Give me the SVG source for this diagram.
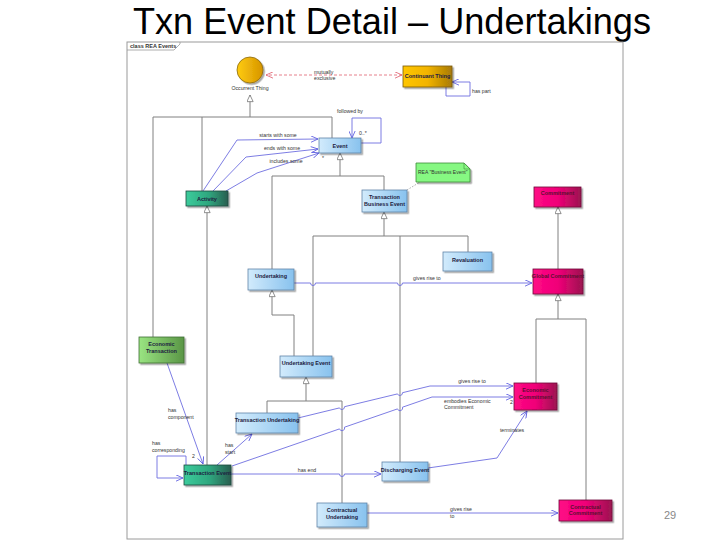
<svg xmlns="http://www.w3.org/2000/svg" width="720" height="540" viewBox="0 0 720 540">
<defs>
<linearGradient id="gBlue" x1="0" y1="0" x2="1" y2="0"><stop offset="0" stop-color="#d2ebfc"/><stop offset="1" stop-color="#88c2ee"/></linearGradient>
<linearGradient id="gTeal" x1="0" y1="0" x2="1" y2="0"><stop offset="0" stop-color="#3ccc9c"/><stop offset="0.55" stop-color="#2ea67e"/><stop offset="1" stop-color="#2b5e50"/></linearGradient>
<linearGradient id="gGreen" x1="0" y1="0" x2="1" y2="0"><stop offset="0" stop-color="#9ae482"/><stop offset="1" stop-color="#5a9646"/></linearGradient>
<linearGradient id="gOrange" x1="0" y1="0" x2="1" y2="0"><stop offset="0" stop-color="#ffc600"/><stop offset="0.5" stop-color="#f2b400"/><stop offset="1" stop-color="#a87a08"/></linearGradient>
<linearGradient id="gCircle" x1="0" y1="0" x2="1" y2="0"><stop offset="0" stop-color="#ffcc10"/><stop offset="1" stop-color="#d69400"/></linearGradient>
<linearGradient id="gMag" x1="0" y1="0" x2="1" y2="0"><stop offset="0" stop-color="#ff0a86"/><stop offset="0.5" stop-color="#f00078"/><stop offset="1" stop-color="#9c1450"/></linearGradient>
<filter id="sh" x="-20%" y="-20%" width="150%" height="160%"><feDropShadow dx="1.6" dy="1.6" stdDeviation="0.7" flood-color="#000" flood-opacity="0.35"/></filter>
<marker id="gen" viewBox="0 0 10 10" refX="10" refY="5" markerWidth="8" markerHeight="7" markerUnits="userSpaceOnUse" orient="auto"><path d="M0.5,0.5 L10,5 L0.5,9.5 Z" fill="#fff" stroke="#707070" stroke-width="1.1"/></marker>
<marker id="arr" viewBox="0 0 10 10" refX="10" refY="5" markerWidth="8" markerHeight="7" markerUnits="userSpaceOnUse" orient="auto"><path d="M0,0.5 L10,5 L0,9.5" fill="none" stroke="#5a5ae0" stroke-width="1.2"/></marker>
<marker id="arrR" viewBox="0 0 10 10" refX="10" refY="5" markerWidth="8" markerHeight="7" markerUnits="userSpaceOnUse" orient="auto-start-reverse"><path d="M0,0.5 L10,5 L0,9.5" fill="none" stroke="#e06070" stroke-width="1.2"/></marker>
</defs>
<style>
.title{font-family:"Liberation Sans",Arial,sans-serif;font-size:36px;fill:#000}
.pg{font-family:"Liberation Sans",Arial,sans-serif;font-size:11px;fill:#888}
.frame{fill:#fff;stroke:#9a9a9a;stroke-width:1}
.tab{font-family:"Liberation Sans",Arial,sans-serif;font-size:5.5px;font-weight:bold;fill:#333}
.box{filter:url(#sh);stroke-width:0.8}
.blue{fill:url(#gBlue);stroke:#5f84a8}
.teal{fill:url(#gTeal);stroke:#1f4a3c}
.green{fill:url(#gGreen);stroke:#3f6e34}
.orange{fill:url(#gOrange);stroke:#7a5a10}
.mag{fill:url(#gMag);stroke:#6e1038}
.nt{font-family:"Liberation Sans",Arial,sans-serif;font-size:5.5px;font-weight:bold;fill:#1c2040;text-anchor:middle}
.ntm{font-family:"Liberation Sans",Arial,sans-serif;font-size:5.5px;font-weight:bold;fill:#5a1030;text-anchor:middle}
.lbl{font-family:"Liberation Sans",Arial,sans-serif;font-size:5.2px;fill:#333}
.mid{text-anchor:middle}
.g{fill:none;stroke:#808080;stroke-width:1}
.a{fill:none;stroke:#6e6ee0;stroke-width:0.9}
</style>

<text class="title" x="133" y="34" textLength="518" lengthAdjust="spacingAndGlyphs">Txn Event Detail – Undertakings</text>
<text class="pg" x="664" y="519">29</text>

<g id="frame">
<rect class="frame" x="127" y="42" width="496" height="497"/>
<path d="M127,50 H174 L180,44 V42" fill="none" stroke="#9a9a9a" stroke-width="0.8"/>
<text class="tab" x="130" y="48">class REA Events</text>
</g>

<g id="connectors">
<!-- generalizations -->
<path class="g" d="M153,337 V117 H332 V138 M202,191 V117"/>
<path class="g" d="M250,117 V95" marker-end="url(#gen)"/>
<path class="g" d="M272,269 V176 H384 V190"/>
<path class="g" d="M340,176 V153" marker-end="url(#gen)"/>
<path class="g" d="M207,465 V206" marker-end="url(#gen)"/>
<path class="g" d="M313,356 V236 H468 V252 M400,462 V236"/>
<path class="g" d="M384,236 V212" marker-end="url(#gen)"/>
<path class="g" d="M294,356 V315 H272"/>
<path class="g" d="M272,315 V290" marker-end="url(#gen)"/>
<path class="g" d="M267,413 V401 H342 V503"/>
<path class="g" d="M306,401 V377" marker-end="url(#gen)"/>
<path class="g" d="M558,269 V207" marker-end="url(#gen)"/>
<path class="g" d="M536,383 V319 H586 V500"/>
<path class="g" d="M558,319 V294" marker-end="url(#gen)"/>
<!-- note link -->
<path d="M407,190 L420,182" fill="none" stroke="#999" stroke-width="0.8" stroke-dasharray="1.5,1.5"/>
<!-- mutually exclusive -->
<path d="M402,75 H266" fill="none" stroke="#e06070" stroke-width="0.8" stroke-dasharray="3,2" marker-start="url(#arrR)" marker-end="url(#arrR)"/>
<text class="lbl" x="314" y="74">mutually</text>
<text class="lbl" x="314" y="80">exclusive</text>
<!-- has part -->
<path class="a" d="M446,87 V96 H470 V82 H452" marker-end="url(#arr)"/>
<text class="lbl" x="472" y="93">has part</text>
<!-- followed by -->
<path class="a" d="M361,143 H381 V118 H352 V138" marker-end="url(#arr)"/>
<text class="lbl mid" x="350" y="113">followed by</text>
<text class="lbl" x="359" y="135">0..*</text>
<text class="lbl" x="322" y="160">*</text>
<!-- activity to event -->
<path class="a" d="M203,191 L237,140 L318,139" marker-end="url(#arr)"/>
<text class="lbl mid" x="278" y="137">starts with some</text>
<path class="a" d="M213,191 L246,157 L318,149" marker-end="url(#arr)"/>
<text class="lbl mid" x="282" y="150">ends with some</text>
<path class="a" d="M226,191 L257,173 L319,153" marker-end="url(#arr)"/>
<text class="lbl mid" x="286" y="163">includes some</text>
<!-- undertaking gives rise to global commitment -->
<path class="a" d="M294,283 H310.5 a2.5,2.5 0 0 0 5,0 H397.5 a2.5,2.5 0 0 0 5,0 H532" marker-end="url(#arr)"/>
<text class="lbl" x="413" y="280">gives rise to</text>
<!-- has component -->
<path class="a" d="M167,363 L203,464" marker-end="url(#arr)"/>
<text class="lbl" x="168" y="412">has</text>
<text class="lbl" x="168" y="419">component</text>
<text class="lbl" x="192" y="458">2</text>
<!-- has corresponding -->
<path class="a" d="M186,465 V456 H157 V478 H183" marker-end="url(#arr)"/>
<text class="lbl" x="152" y="445">has</text>
<text class="lbl" x="152" y="452">corresponding</text>
<!-- has start -->
<path class="a" d="M217,465 L252,434" marker-end="url(#arr)"/>
<text class="lbl" x="225" y="447">has</text>
<text class="lbl" x="225" y="454">start</text>
<!-- TU gives rise to EC -->
<path class="a" d="M298,418 L339.5,407.9 a2.6,2.6 0 0 0 5,-1.2 L397.5,393.9 a2.6,2.6 0 0 0 5,-1.2 L430,386 H513" marker-end="url(#arr)"/>
<text class="lbl mid" x="472" y="383">gives rise to</text>
<!-- embodies -->
<path class="a" d="M232,466 L339.5,428.9 a2.6,2.6 0 0 0 5,-1.7 L397.5,408.9 a2.6,2.6 0 0 0 5,-1.7 L432,397 H513" marker-end="url(#arr)"/>
<text class="lbl" x="444" y="403">embodies Economic</text>
<text class="lbl" x="444" y="409">Commitment</text>
<text class="lbl" x="510" y="404">2</text>
<!-- has end -->
<path class="a" d="M231,474 H339.5 a2.5,2.5 0 0 0 5,0 H381" marker-end="url(#arr)"/>
<text class="lbl mid" x="307" y="472">has end</text>
<!-- terminates -->
<path class="a" d="M428,468 L497,458 L527,411" marker-end="url(#arr)"/>
<text class="lbl mid" x="512" y="432">terminates</text>
<!-- contractual gives rise -->
<path class="a" d="M367,513 H558" marker-end="url(#arr)"/>
<text class="lbl" x="450" y="511">gives rise</text>
<text class="lbl" x="450" y="518">to</text>
</g>

<g id="occurrent-thing">
<circle cx="250" cy="70" r="13" fill="url(#gCircle)" stroke="#8a6a10" stroke-width="0.8" filter="url(#sh)"/>
<text class="lbl mid" x="250" y="90">Occurrent Thing</text>
</g>
<g id="continuant-thing"><rect class="box orange" x="403" y="66" width="49" height="21"/><text class="nt" x="427.5" y="78">Continuant Thing</text></g>
<g id="event"><rect class="box blue" x="319" y="138" width="42" height="15"/><text class="nt" x="340" y="147.5">Event</text></g>
<g id="activity"><rect class="box teal" x="186" y="191" width="42" height="15"/><text class="nt" x="207" y="200.5">Activity</text></g>
<g id="transaction-business-event"><rect class="box blue" x="362" y="190" width="45" height="22"/><text class="nt" x="384.5" y="199">Transaction</text><text class="nt" x="384.5" y="206">Business Event</text></g>
<g id="note">
<path d="M416,163 H464 L470,169 V182 H416 Z" fill="#86f882" stroke="#3e8a3a" stroke-width="0.8" filter="url(#sh)"/>
<path d="M464,163 V169 H470" fill="none" stroke="#3e8a3a" stroke-width="0.6"/>
<text class="lbl" x="418" y="173.5" style="font-size:5px">REA "Business Event"</text>
</g>
<g id="commitment"><rect class="box mag" x="534" y="187" width="47" height="20"/><text class="ntm" x="557.5" y="195">Commitment</text></g>
<g id="undertaking"><rect class="box blue" x="248" y="269" width="46" height="21"/><text class="nt" x="271" y="278">Undertaking</text></g>
<g id="revaluation"><rect class="box blue" x="443" y="252" width="49" height="19"/><text class="nt" x="467.5" y="262">Revaluation</text></g>
<g id="global-commitment"><rect class="box mag" x="533" y="269" width="50" height="25"/><text class="ntm" x="558" y="278">Global Commitment</text></g>
<g id="economic-transaction"><rect class="box green" x="139" y="337" width="45" height="26"/><text class="nt" x="161.5" y="346">Economic</text><text class="nt" x="161.5" y="352.5">Transaction</text></g>
<g id="undertaking-event"><rect class="box blue" x="280" y="356" width="52" height="21"/><text class="nt" x="306" y="365">Undertaking Event</text></g>
<g id="transaction-undertaking"><rect class="box blue" x="236" y="413" width="62" height="20"/><text class="nt" x="267" y="422">Transaction Undertaking</text></g>
<g id="economic-commitment"><rect class="box mag" x="514" y="383" width="43" height="27"/><text class="ntm" x="535.5" y="392">Economic</text><text class="ntm" x="535.5" y="398.5">Commitment</text></g>
<g id="transaction-event"><rect class="box teal" x="184" y="465" width="47" height="20"/><text class="nt" x="207.5" y="474.5">Transaction Event</text></g>
<g id="discharging-event"><rect class="box blue" x="382" y="462" width="46" height="19"/><text class="nt" x="405" y="471.5">Discharging Event</text></g>
<g id="contractual-undertaking"><rect class="box blue" x="317" y="503" width="50" height="24"/><text class="nt" x="342" y="512">Contractual</text><text class="nt" x="342" y="518.5">Undertaking</text></g>
<g id="contractual-commitment"><rect class="box mag" x="559" y="500" width="53" height="21"/><text class="ntm" x="585.5" y="508.5">Contractual</text><text class="ntm" x="585.5" y="515">Commitment</text></g>
</svg>
